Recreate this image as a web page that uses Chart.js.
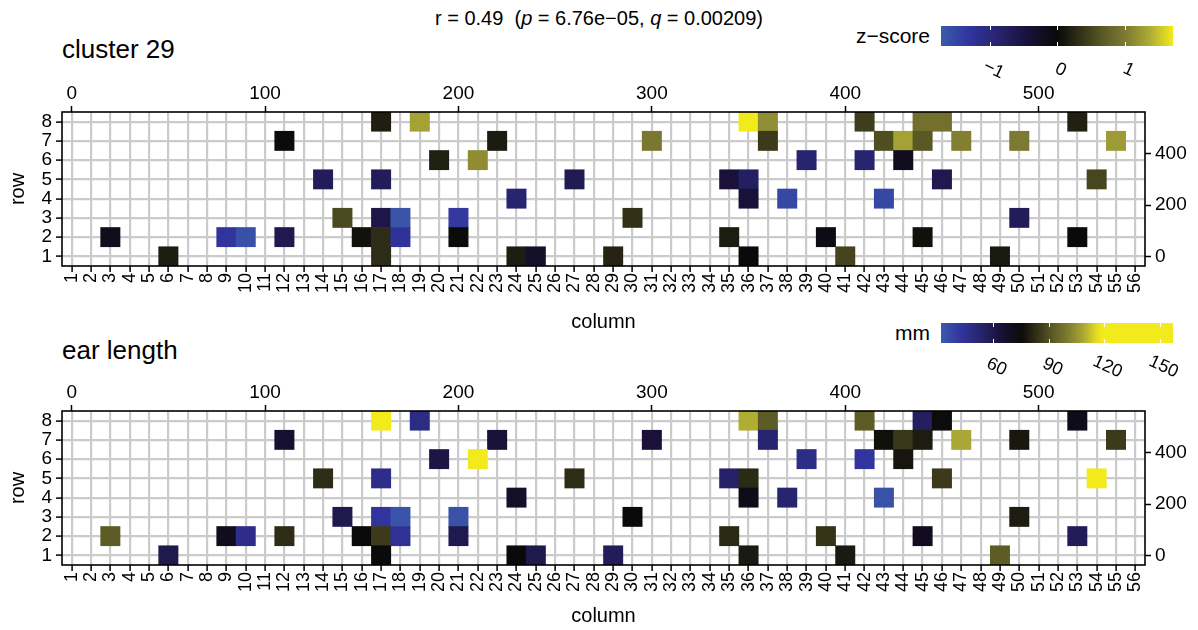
<!DOCTYPE html>
<html lang="en">
<head>
  <meta charset="UTF-8">
  <title>cluster 29 vs ear length</title>
  <style>
    body { margin: 0; width: 1198px; height: 630px; overflow: hidden; background: #fff;
           font-family: "Liberation Sans", Arial, sans-serif; color: #000; position: relative; }
    canvas { position: absolute; left: 0; }
    .txt { position: absolute; white-space: nowrap; }
    .stats { top: 6px; left: 0; width: 1198px; text-align: center; font-size: 20px; line-height: 24px; }
    .ptitle { left: 62px; font-size: 26px; line-height: 30px; }
    .lname { width: 140px; text-align: right; font-size: 21px; line-height: 22px; }
    .cbar { position: absolute; left: 941px; width: 232px; height: 20px; }
    .cbar i { position: absolute; width: 1px; height: 4px; background: #fff; }
    .clab { position: absolute; font-size: 18px; line-height: 20px; transform: translate(-50%, -50%) rotate(25deg); }
  </style>
</head>
<body>
<div class="txt stats">r = 0.49&nbsp; (<i>p</i> = 6.76e−05, <i>q</i> = 0.00209)</div>
<div class="txt ptitle" style="top:34px">cluster 29</div>
<div class="txt ptitle" style="top:335px">ear length</div>
<div class="txt lname" style="left:790px; top:25px">z−score</div>
<div class="txt lname" style="left:790px; top:322px">mm</div>
<div class="cbar" id="zbar" style="top:26px"></div>
<div class="cbar" id="mmbar" style="top:323px"></div>
<canvas id="clusterChart" width="1198" height="336" style="top:0px"></canvas>
<canvas id="earChart" width="1198" height="331" style="top:299px"></canvas>
<script src="https://cdn.jsdelivr.net/npm/chart.js"></script>
<script>
  // grid: 56 columns x 8 rows, tiles listed row 8 -> row 1, left -> right
  const columnLabels = Array.from({length: 56}, (_, i) => String(i + 1));
  const rowTicks = [1, 2, 3, 4, 5, 6, 7, 8];
  const topTicks = [0, 100, 200, 300, 400, 500];
  const rightTicks = [0, 200, 400];
  const zLegendTicks = [-1, 0, 1];
  const mmLegendTicks = [60, 90, 120, 150];

  const tileCols = [
    17, 19, 36, 37, 42, 45, 46, 53,
    12, 23, 31, 37, 43, 44, 45, 47, 50, 55,
    20, 22, 39, 42, 44,
    14, 17, 27, 35, 36, 46, 54,
    24, 36, 38, 43,
    15, 17, 18, 21, 30, 50,
    3, 9, 10, 12, 16, 17, 18, 21, 35, 40, 45, 53,
    6, 17, 24, 25, 29, 36, 41, 49
  ];
  const tileRows = [
    8, 8, 8, 8, 8, 8, 8, 8,
    7, 7, 7, 7, 7, 7, 7, 7, 7, 7,
    6, 6, 6, 6, 6,
    5, 5, 5, 5, 5, 5, 5,
    4, 4, 4, 4,
    3, 3, 3, 3, 3, 3,
    2, 2, 2, 2, 2, 2, 2, 2, 2, 2, 2, 2,
    1, 1, 1, 1, 1, 1, 1, 1
  ];
  const clusterZ = [
    0.18, 1.3, 1.75, 1.15, 0.44, 0.9, 0.9, 0.2,
    0.01, 0.15, 0.97, 0.41, 0.58, 1.3, 0.67, 1.04, 0.99, 1.25,
    0.19, 1.14, -0.9, -0.9, -0.2,
    -0.72, -0.72, -0.67, -0.45, -0.77, -0.63, 0.52,
    -0.9, -0.45, -1.52, -1.52,
    0.54, -0.57, -1.65, -1.35, 0.34, -0.7,
    -0.17, -1.3, -1.6, -0.63, 0.07, 0.3, -1.25, 0.01, 0.16, -0.09, 0.06, 0.0,
    0.16, 0.3, 0.17, -0.3, 0.23, 0.0, 0.5, 0.14
  ];
  const earMM = [
    140, 48, 109.5, 92.5, 92.5, 56, 75.5, 71.5,
    66, 64.5, 64.5, 52.5, 76.5, 85, 79, 108.5, 78, 85.5,
    61.5, 130, 47.5, 42.5, 77.5,
    82.5, 47, 82.5, 54.5, 82, 85.5, 135,
    67.5, 71.5, 52.5, 34.5,
    59.5, 43, 34, 34.5, 75, 79,
    92.5, 70, 47, 82.5, 75, 85.5, 44.5, 59.5, 82, 84, 70, 57,
    59.5, 75, 75, 59.5, 57.5, 78.5, 78.5, 92.5
  ];

  // blue - black - yellow scale on z units
  const cmap = [
    [-1.72, [59, 91, 170]],
    [-1.3, [50, 52, 158]],
    [-0.9, [40, 37, 112]],
    [-0.45, [26, 17, 58]],
    [0, [10, 10, 10]],
    [0.3, [45, 44, 22]],
    [0.7, [94, 92, 38]],
    [1.0, [125, 122, 50]],
    [1.35, [170, 168, 54]],
    [1.71, [243, 234, 28]]
  ];
  function colorAt(t) {
    t = Math.max(cmap[0][0], Math.min(cmap[cmap.length - 1][0], t));
    for (let i = 1; i < cmap.length; i++) {
      if (t <= cmap[i][0]) {
        const [t0, c0] = cmap[i - 1], [t1, c1] = cmap[i];
        const f = (t - t0) / (t1 - t0);
        const c = c0.map((v, k) => Math.round(v + (c1[k] - v) * f));
        return `rgb(${c[0]},${c[1]},${c[2]})`;
      }
    }
    return 'rgb(243,234,28)';
  }
  const mmToZ = mm => (mm - 75) / 25;

  function colorbar(id, lo, hi, toZ, ticks) {
    const el = document.getElementById(id);
    const stops = [];
    for (let i = 0; i <= 40; i++) {
      const v = lo + (hi - lo) * i / 40;
      stops.push(`${colorAt(toZ(v))} ${(i * 2.5).toFixed(1)}%`);
    }
    el.style.background = `linear-gradient(to right, ${stops.join(',')})`;
    const box = el.getBoundingClientRect();
    ticks.forEach(v => {
      const x = (v - lo) / (hi - lo) * box.width;
      el.insertAdjacentHTML('beforeend', `<i style="left:${x}px;top:0"></i><i style="left:${x}px;bottom:0"></i>`);
      const lab = document.createElement('div');
      lab.className = 'clab';
      lab.textContent = v < 0 ? '−' + Math.abs(v) : String(v);
      lab.style.left = (box.left + x + 4) + 'px';
      lab.style.top = (box.bottom + 23) + 'px';
      document.body.appendChild(lab);
    });
  }
  colorbar('zbar', -1.72, 1.71, v => v, zLegendTicks);
  colorbar('mmbar', 31.8, 157, mmToZ, mmLegendTicks);

  const frame = {
    id: 'frame',
    afterDatasetsDraw(chart) {
      const {ctx, chartArea: a} = chart;
      ctx.save();
      ctx.strokeStyle = '#000';
      ctx.lineWidth = 1.6;
      ctx.strokeRect(a.left, a.top, a.right - a.left, a.bottom - a.top);
      ctx.restore();
    }
  };

  function createPanel(canvasId, values, toZ, bottomH) {
    const datasets = [];
    for (let r = 1; r <= 8; r++) {
      const data = columnLabels.map(() => null);
      const colors = columnLabels.map(() => 'rgba(0,0,0,0)');
      tileCols.forEach((c, i) => {
        if (tileRows[i] === r) {
          data[c - 1] = [r - 0.5, r + 0.5];
          colors[c - 1] = colorAt(toZ(values[i]));
        }
      });
      datasets.push({
        label: 'row ' + r, data: data, backgroundColor: colors,
        borderWidth: 0, barPercentage: 1, categoryPercentage: 1, grouped: false
      });
    }
    const tickGrid = {tickColor: '#000', tickWidth: 1.5, tickLength: 6};
    const ctx = document.getElementById(canvasId).getContext('2d');
    return new Chart(ctx, {
      type: 'bar',
      data: {labels: columnLabels, datasets: datasets},
      plugins: [frame],
      options: {
        responsive: false,
        animation: false,
        layout: {padding: 0},
        plugins: {legend: {display: false}, tooltip: {enabled: false}},
        scales: {
          x: {
            type: 'category', position: 'bottom', offset: true,
            grid: Object.assign({offset: false, color: '#cbcbcb', lineWidth: 2.2}, tickGrid),
            border: {display: false},
            ticks: {minRotation: 90, maxRotation: 90, autoSkip: false, color: '#000', font: {size: 18}, padding: 1},
            title: {display: true, text: 'column', color: '#000', font: {size: 20}, padding: {top: 0, bottom: 2}},
            afterFit: s => { s.height = bottomH; }
          },
          x2: {
            type: 'linear', position: 'top', min: -5, max: 555, offset: false,
            grid: Object.assign({drawOnChartArea: false, offset: false}, tickGrid),
            border: {display: false},
            ticks: {autoSkip: false, color: '#000', font: {size: 19}, padding: 1},
            afterBuildTicks: s => { s.ticks = topTicks.map(v => ({value: v})); },
            afterFit: s => { s.height = 112; }
          },
          y: {
            type: 'linear', min: 0.5, max: 8.5, offset: false,
            grid: Object.assign({color: '#cbcbcb', lineWidth: 2.2}, tickGrid),
            border: {display: false},
            ticks: {autoSkip: false, color: '#000', font: {size: 19}, padding: 4},
            afterBuildTicks: s => { s.ticks = rowTicks.map(v => ({value: v})); },
            title: {display: true, text: 'row', color: '#000', font: {size: 20}, padding: {top: 6, bottom: 0}},
            afterFit: s => { s.width = 62; }
          },
          y2: {
            type: 'linear', position: 'right', min: -37.5, max: 562.5, offset: false,
            grid: Object.assign({drawOnChartArea: false}, tickGrid),
            border: {display: false},
            ticks: {autoSkip: false, color: '#000', font: {size: 19}, padding: 4},
            afterBuildTicks: s => { s.ticks = rightTicks.map(v => ({value: v})); },
            afterFit: s => { s.width = 53; }
          }
        }
      }
    });
  }

  createPanel('clusterChart', clusterZ, z => z, 70);
  createPanel('earChart', earMM, mmToZ, 65);
</script>
</body>
</html>
